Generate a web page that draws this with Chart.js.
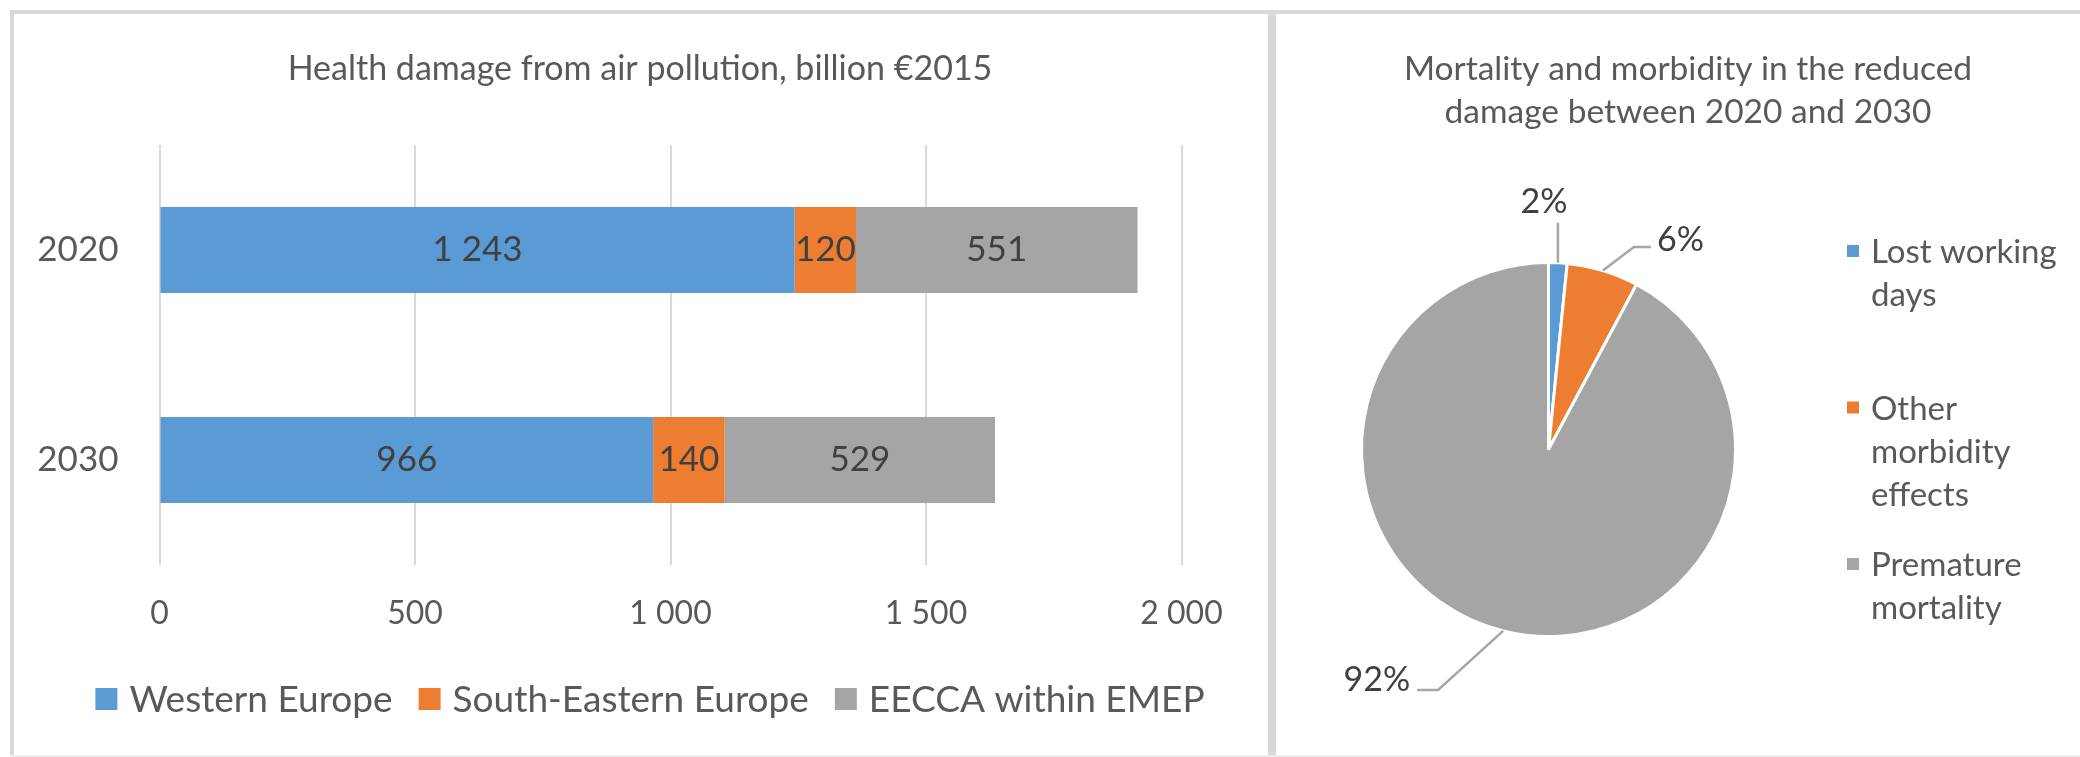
<!DOCTYPE html>
<html>
<head>
<meta charset="utf-8">
<script src="https://cdn.jsdelivr.net/npm/chart.js@4.4.1/dist/chart.umd.min.js"></script>
<style>
  html, body { margin: 0; padding: 0; background: #fff; }
  body { width: 2080px; height: 757px; position: relative; overflow: hidden; }
  .frame { position: absolute; background: #d9d9d9; }
  canvas { position: absolute; }
</style>
</head>
<body>
<div class="frame" style="left:10px;top:10px;width:2070px;height:4px"></div>
<div class="frame" style="left:10px;top:10px;width:4px;height:747px"></div>
<div class="frame" style="left:1268px;top:10px;width:8px;height:747px"></div>
<div class="frame" style="left:10px;top:755px;width:2070px;height:2px;background:#ededed"></div>
<canvas id="barChart" width="1254" height="743" style="left:14px;top:14px"></canvas>
<canvas id="pieChart" width="804" height="743" style="left:1276px;top:14px"></canvas>
<script>
// ---- data ----
const years = ['2020', '2030'];
const westernEurope = [1243, 966];
const southEasternEurope = [120, 140];
const eeccaWithinEmep = [551, 529];
const xTicks = [0, 500, 1000, 1500, 2000];

const pieLabels = ['Lost working days', 'Other morbidity effects', 'Premature mortality'];
const pieShares = [1.6, 6.2, 92.2];

// ---- look ----
const FONT = 'Lato';
const TEXT = '#595959';
const LABEL = '#404040';
const BLUE = '#5b9bd5', ORANGE = '#ed7d31', GREY = '#a5a5a5';

// 1 243 style thousands
const fmt = v => String(v).replace(/\B(?=(\d{3})+(?!\d))/g, ' ');

// values written in the middle of each bar segment
const barValueLabels = {
    id: 'barValueLabels',
    afterDatasetsDraw(chart) {
        const ctx = chart.ctx;
        ctx.save();
        ctx.font = `35px ${FONT}`;
        ctx.fillStyle = LABEL;
        ctx.textAlign = 'center';
        ctx.textBaseline = 'middle';
        chart.data.datasets.forEach((ds, i) => {
            chart.getDatasetMeta(i).data.forEach((bar, j) => {
                const p = bar.getProps(['x', 'y', 'base'], true);
                ctx.fillText(fmt(ds.data[j]), (p.x + p.base) / 2, p.y);
            });
        });
        ctx.restore();
    }
};

// bar panel: title on top and a one-row legend under the axis
const barPanelText = {
    id: 'barPanelText',
    afterDraw(chart, args, opts) {
        const ctx = chart.ctx;
        ctx.save();
        ctx.fillStyle = TEXT;
        ctx.font = `34px ${FONT}`;
        ctx.textAlign = 'center';
        ctx.textBaseline = 'alphabetic';
        ctx.fillText(opts.title, opts.titleX, opts.titleY);

        ctx.font = `${opts.legendSize}px ${FONT}`;
        const items = chart.data.datasets.map(ds => ({
            text: ds.label, color: ds.backgroundColor, w: ctx.measureText(ds.label).width
        }));
        const total = items.reduce((s, it) => s + opts.box + opts.boxGap + it.w, 0) + opts.itemGap * (items.length - 1);
        let x = opts.legendX - total / 2;
        ctx.textAlign = 'left';
        items.forEach(it => {
            ctx.fillStyle = it.color;
            ctx.fillRect(x, opts.legendY - opts.box / 2, opts.box, opts.box);
            ctx.fillStyle = TEXT;
            ctx.fillText(it.text, x + opts.box + opts.boxGap, opts.legendY + opts.baseShift);
            x += opts.box + opts.boxGap + it.w + opts.itemGap;
        });
        ctx.restore();
    }
};

// pie: title, percent labels with leader lines, wrapped legend on the right
const pieDecor = {
    id: 'pieDecor',
    afterDatasetsDraw(chart, args, opts) {
        const ctx = chart.ctx;
        const ds = chart.data.datasets[0];
        const total = ds.data.reduce((a, b) => a + b, 0);
        ctx.save();

        chart.getDatasetMeta(0).data.forEach((arc, i) => {
            const a = arc.getProps(['x', 'y', 'startAngle', 'endAngle', 'outerRadius'], true);
            const mid = (a.startAngle + a.endAngle) / 2;
            const rx = a.x + Math.cos(mid) * a.outerRadius;
            const ry = a.y + Math.sin(mid) * a.outerRadius;
            const L = opts.leaders[i];
            const ex = rx + L.elbow[0], ey = ry + L.elbow[1];
            const tx = ex + L.tail;
            ctx.strokeStyle = '#a6a6a6';
            ctx.lineWidth = 2.5;
            ctx.beginPath();
            ctx.moveTo(rx, ry);
            ctx.lineTo(ex, ey);
            ctx.lineTo(tx, ey);
            ctx.stroke();
            ctx.font = `34px ${FONT}`;
            ctx.fillStyle = LABEL;
            ctx.textAlign = L.align;
            ctx.textBaseline = 'middle';
            ctx.fillText(Math.round(ds.data[i] / total * 100) + '%', tx + L.label[0], ey + L.label[1]);
        });

        // title
        ctx.font = `33.5px ${FONT}`;
        ctx.fillStyle = TEXT;
        ctx.textAlign = 'center';
        ctx.textBaseline = 'alphabetic';
        opts.title.forEach((line, k) => ctx.fillText(line, opts.titleX, opts.titleY + k * opts.lineGap));

        // legend
        ctx.font = `33px ${FONT}`;
        ctx.textAlign = 'left';
        chart.data.labels.forEach((label, i) => {
            const y0 = opts.legendY + i * opts.legendStep;
            ctx.fillStyle = ds.backgroundColor[i];
            ctx.fillRect(opts.legendX, y0 - 18, 12, 12);
            ctx.fillStyle = TEXT;
            const lines = [];
            let cur = '';
            label.split(' ').forEach(w => {
                const t = cur ? cur + ' ' + w : w;
                if (cur && ctx.measureText(t).width > opts.wrap) { lines.push(cur); cur = w; } else cur = t;
            });
            lines.push(cur);
            lines.forEach((ln, k) => ctx.fillText(ln, opts.legendX + 24, y0 + k * opts.lineGap));
        });
        ctx.restore();
    }
};

new Chart(document.getElementById('barChart'), {
    type: 'bar',
    data: {
        labels: years,
        datasets: [
            { label: 'Western Europe', data: westernEurope, backgroundColor: BLUE },
            { label: 'South-Eastern Europe', data: southEasternEurope, backgroundColor: ORANGE },
            { label: 'EECCA within EMEP', data: eeccaWithinEmep, backgroundColor: GREY }
        ]
    },
    options: {
        indexAxis: 'y',
        responsive: false,
        animation: false,
        layout: { padding: { left: 0, right: 86.5, top: 131, bottom: 119.5 } },
        datasets: { bar: { categoryPercentage: 1, barPercentage: 0.41, borderWidth: 0 } },
        plugins: {
            title: { display: false },
            legend: { display: false },
            tooltip: { enabled: false },
            barPanelText: {
                title: 'Health damage from air pollution, billion €2015',
                titleX: 626, titleY: 66,
                legendX: 636, legendY: 685, legendSize: 37, baseShift: 13,
                box: 22, boxGap: 12, itemGap: 26
            }
        },
        scales: {
            x: {
                stacked: true,
                min: 0,
                max: 2000,
                afterBuildTicks: s => { s.ticks = xTicks.map(v => ({ value: v })); },
                afterFit: s => { s.height = 72.5; },
                grid: { color: '#d9d9d9', lineWidth: 2, drawTicks: false },
                border: { display: false },
                ticks: { padding: 29, color: TEXT, font: { family: FONT, size: 32 }, callback: v => fmt(v) }
            },
            y: {
                stacked: true,
                afterFit: s => { s.width = 145.5; },
                grid: { display: false },
                border: { display: false },
                ticks: { padding: 33, color: TEXT, font: { family: FONT, size: 35 } }
            }
        }
    },
    plugins: [barValueLabels, barPanelText]
});

new Chart(document.getElementById('pieChart'), {
    type: 'pie',
    data: {
        labels: pieLabels,
        datasets: [{
            data: pieShares,
            backgroundColor: [BLUE, ORANGE, GREY],
            borderColor: '#ffffff',
            borderWidth: 3
        }]
    },
    options: {
        responsive: false,
        animation: false,
        layout: { padding: { left: 84, right: 343, top: 247, bottom: 119 } },
        plugins: {
            legend: { display: false },
            tooltip: { enabled: false },
            pieDecor: {
                title: ['Mortality and morbidity in the reduced', 'damage between 2020 and 2030'],
                titleX: 412, titleY: 66, lineGap: 43,
                legendX: 571, legendY: 249, legendStep: 156.5, wrap: 210,
                leaders: [
                    { elbow: [0, -40], tail: 0, label: [-14, -21], align: 'center' },
                    { elbow: [31, -23.5], tail: 17, label: [6, -7], align: 'left' },
                    { elbow: [-65, 59], tail: -21, label: [-7, -10], align: 'right' }
                ]
            }
        }
    },
    plugins: [pieDecor]
});
</script>
</body>
</html>
